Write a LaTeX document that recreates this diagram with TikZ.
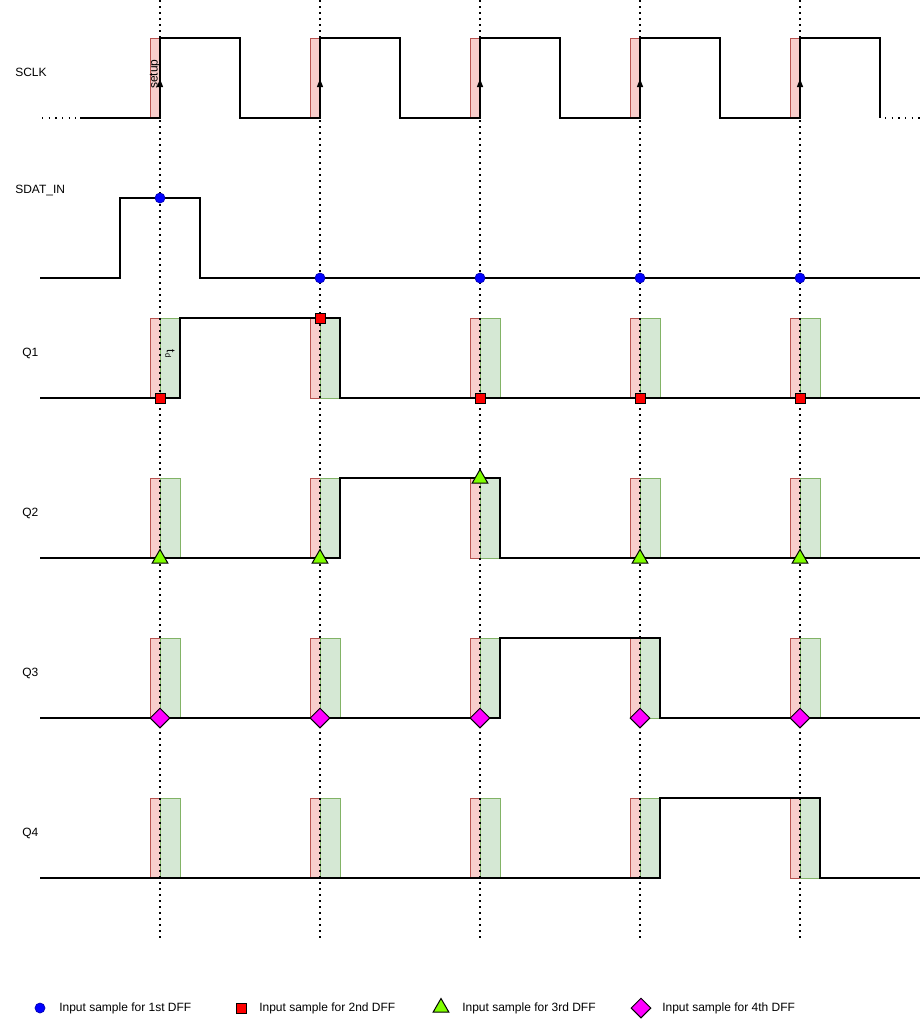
\documentclass[tikz,border=0pt]{standalone}
\usepackage{fontspec}
\setmainfont{Liberation Sans}
\usetikzlibrary{shapes.geometric}
\definecolor{redfill}{HTML}{F8CECC}
\definecolor{redline}{HTML}{B85450}
\definecolor{greenfill}{HTML}{D5E8D4}
\definecolor{greenline}{HTML}{82B366}
\definecolor{trifill}{HTML}{80FF00}
\definecolor{diafill}{HTML}{FF00FF}
\definecolor{sqfill}{HTML}{FF0000}
\definecolor{dotfill}{HTML}{0000FF}
\tikzset{
  setupbox/.style={fill=redfill, draw=redline, line width=0.75pt},
  holdbox/.style={fill=greenfill, draw=greenline, line width=0.75pt},
  clkline/.style={line width=1pt, black},
  wave/.style={line width=1.5pt, black, line join=miter},
  guide/.style={line width=1.5pt, dash pattern=on 1.5pt off 3pt},
  lbl/.style={anchor=west, inner sep=0pt, font=\fontsize{9}{11}\selectfont},
  bdot/.style={circle, fill=dotfill, draw=dotfill!70!black, line width=0.5pt, minimum size=7.5pt, inner sep=0pt},
  rsq/.style={rectangle, fill=sqfill, draw=black, line width=0.75pt, minimum size=7.5pt, inner sep=0pt},
  gtri/.style={regular polygon, regular polygon sides=3, fill=trifill, draw=black, line width=0.75pt, minimum size=13.5pt, inner sep=0pt},
  mdia/.style={diamond, fill=diafill, draw=black, line width=0.75pt, minimum size=15pt, inner sep=0pt},
}
\begin{document}
\begin{tikzpicture}[x=0.75pt,y=-0.75pt]
\useasboundingbox (0,0) rectangle (923,1026);
\fill[white] (0,0) rectangle (923,1026);

% setup / hold windows
\foreach \e in {160,320,480,640,800} {
  \draw[setupbox] ({\e-10},38) rectangle (\e,118);
  \foreach \t in {318,478,638,798} {
    \draw[setupbox] ({\e-10},\t) rectangle (\e,{\t+80});
    \draw[holdbox] (\e,\t) rectangle ({\e+20},{\t+80});
  }
}

% dotted clock-edge guides
\foreach \e in {160,320,480,640,800} {
  \draw[guide] (\e,0) -- (\e,940);
  \fill (\e,79) -- ({\e-3.2},87) -- ({\e+3.2},87) -- cycle;
}

% labels
\node[lbl] (lclk) at (15,72) {SCLK};
\node[lbl] (lsdat) at (15,190) {SDAT\_IN};
\node[lbl] (lq1) at (22,353) {Q1};
\node[lbl] (lq2) at (22,513) {Q2};
\node[lbl] (lq3) at (22,673) {Q3};
\node[lbl] (lq4) at (22,833) {Q4};
\node[rotate=90, inner sep=0pt, font=\fontsize{9}{11}\selectfont] (setup) at (155,74) {setup};
\node[rotate=-90, inner sep=0pt, font=\fontsize{9}{11}\selectfont] (td) at (170,354) {t\textsubscript{d}};

% SCLK
\draw[guide, line width=1pt, dash pattern=on 1pt off 4pt] (42,118) -- (76,118);
\draw[clkline] (80,118) -- (160,118) -- (160,38) -- (240,38) -- (240,118)
  -- (320,118) -- (320,38) -- (400,38) -- (400,118)
  -- (480,118) -- (480,38) -- (560,38) -- (560,118)
  -- (640,118) -- (640,38) -- (720,38) -- (720,118)
  -- (800,118) -- (800,38) -- (880,38) -- (880,118);
\draw[guide, line width=1pt, dash pattern=on 1pt off 4pt] (885,118) -- (920,118);

% SDAT_IN
\draw[wave] (40,278) -- (120,278) -- (120,198) -- (200,198) -- (200,278) -- (920,278);
% Q1
\draw[wave] (40,398) -- (180,398) -- (180,318) -- (340,318) -- (340,398) -- (920,398);
% Q2
\draw[wave] (40,558) -- (340,558) -- (340,478) -- (500,478) -- (500,558) -- (920,558);
% Q3
\draw[wave] (40,718) -- (500,718) -- (500,638) -- (660,638) -- (660,718) -- (920,718);
% Q4
\draw[wave] (40,878) -- (660,878) -- (660,798) -- (820,798) -- (820,878) -- (920,878);

% sample markers
\node[bdot] (d1) at (160,198) {};
\node[bdot] (d2) at (320,278) {};
\node[bdot] (d3) at (480,278) {};
\node[bdot] (d4) at (640,278) {};
\node[bdot] (d5) at (800,278) {};

\node[rsq] (s1) at (160,398) {};
\node[rsq] (s2) at (320,318) {};
\node[rsq] (s3) at (480,398) {};
\node[rsq] (s4) at (640,398) {};
\node[rsq] (s5) at (800,398) {};

\node[gtri] (t1) at (160,558.5) {};
\node[gtri] (t2) at (320,558.5) {};
\node[gtri] (t3) at (480,478.5) {};
\node[gtri] (t4) at (640,558.5) {};
\node[gtri] (t5) at (800,558.5) {};

\node[mdia] (m1) at (160,718) {};
\node[mdia] (m2) at (320,718) {};
\node[mdia] (m3) at (480,718) {};
\node[mdia] (m4) at (640,718) {};
\node[mdia] (m5) at (800,718) {};

% legend
\node[bdot] (k1) at (40,1008) {};
\node[lbl] (k1t) at (59,1008) {Input sample for 1st DFF};
\node[rsq] (k2) at (241,1008) {};
\node[lbl] (k2t) at (259,1008) {Input sample for 2nd DFF};
\node[gtri] (k3) at (441,1007.5) {};
\node[lbl] (k3t) at (462,1008) {Input sample for 3rd DFF};
\node[mdia] (k4) at (641,1008) {};
\node[lbl] (k4t) at (662,1008) {Input sample for 4th DFF};
\end{tikzpicture}
\end{document}
